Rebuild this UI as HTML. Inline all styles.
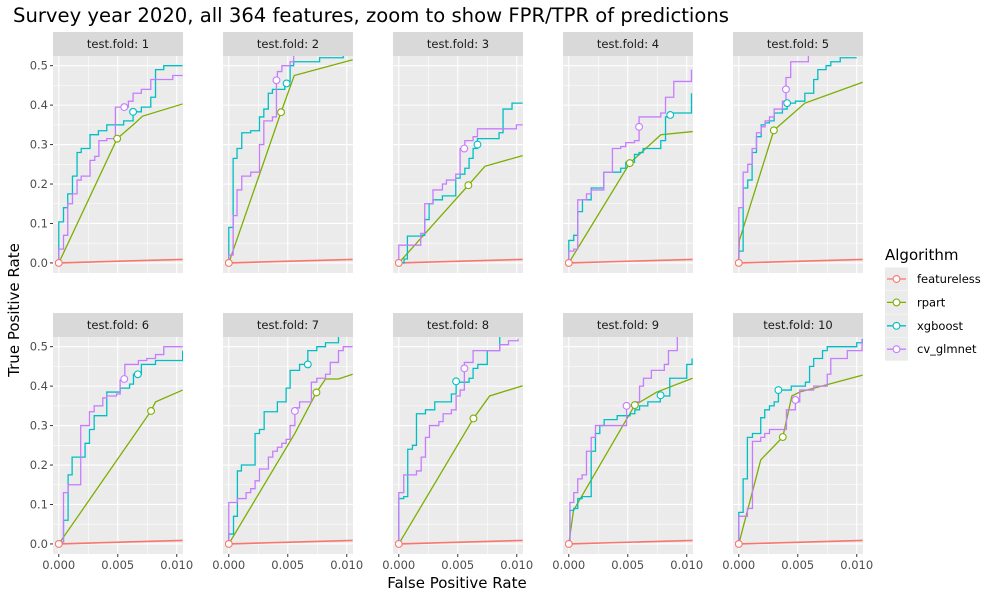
<!DOCTYPE html>
<html><head><meta charset="utf-8"><style>
body{margin:0;background:#fff;}
svg{display:block;font-family:"DejaVu Sans","Liberation Sans",sans-serif;}
</style></head><body>
<svg id="chart" width="1000" height="600" viewBox="0 0 1000 600">
<text x="13" y="22" font-size="19.5" fill="#000" textLength="716" lengthAdjust="spacingAndGlyphs">Survey year 2020, all 364 features, zoom to show FPR/TPR of predictions</text>
<text x="457" y="588" font-size="15" text-anchor="middle" fill="#000">False Positive Rate</text>
<text transform="translate(19,310) rotate(-90)" font-size="15" text-anchor="middle" fill="#000">True Positive Rate</text>
<g id="panels"></g>
<g id="legend"></g>
</svg>
<script>
// FPR values are in thousandths (x 0.001)
const folds = [1,2,3,4,5,6,7,8,9,10];
const xTicks = [0, 5, 10];
const xTickLabels = ["0.000","0.005","0.010"];
const yTicks = [0, 0.1, 0.2, 0.3, 0.4, 0.5];
const yTickLabels = ["0.0","0.1","0.2","0.3","0.4","0.5"];
const algorithms = ["featureless","rpart","xgboost","cv_glmnet"];
const algColors = ["#F8766D","#7CAE00","#00BFC4","#C77CFF"];

const xgbFpr = [
 [0,0.4,0.76,1.16,1.55,1.9,2.65,3.36,4.07,5.5,6.3,7.0,7.8,8.2,8.9,10.5],
 [0,0.37,0.7,1.1,1.86,2.6,2.97,3.35,3.7,4.75,5.2,5.5,7.7,9.7],
 [0.45,0.73,1.86,2.2,2.57,2.9,3.7,4.83,5.2,5.6,5.96,6.3,6.67,8.5,8.84,9.6,10.5],
 [0,0.42,0.76,1.16,1.9,2.97,4.4,4.83,5.57,5.96,6.3,7.8,8.2,8.6,10.4],
 [0,0.37,0.76,1.13,1.5,1.9,2.23,2.6,3.0,3.7,4.1,4.8,5.6,6.35,6.7,7.4,7.8,8.6,10.0],
 [0,0.4,0.79,1.13,2.23,2.6,3.0,4.07,5.2,6.0,6.33,7.0,8.2,10.5],
 [0,0.4,0.73,1.07,2.23,2.6,3.0,4.12,4.86,5.2,6.0,6.7,7.46,8.2,9.3],
 [0,0.42,0.76,1.16,1.5,2.26,3.05,4.46,4.86,5.96,6.3,6.7,7.5,8.56],
 [0.1,0.42,0.76,1.13,1.9,2.26,2.63,3.0,4.1,5.2,5.6,6.0,6.7,7.76,8.56,10.0,10.45],
 [0,0.37,0.73,1.16,1.86,2.2,2.6,3.0,3.36,4.45,5.65,6.0,6.35,7.1,7.5,10.0,10.5]
];
const xgbTpr = [
 [0.104,0.14,0.175,0.22,0.28,0.29,0.325,0.335,0.35,0.36,0.383,0.395,0.42,0.49,0.5,0.5],
 [0.09,0.265,0.29,0.33,0.335,0.37,0.39,0.43,0.44,0.46,0.5,0.51,0.52,0.56],
 [0.01,0.068,0.07,0.11,0.15,0.16,0.17,0.215,0.225,0.24,0.265,0.29,0.315,0.33,0.39,0.405,0.405],
 [0.057,0.07,0.13,0.16,0.19,0.23,0.24,0.255,0.275,0.28,0.29,0.31,0.37,0.38,0.43],
 [0.03,0.19,0.21,0.28,0.32,0.35,0.355,0.36,0.38,0.39,0.405,0.41,0.43,0.465,0.49,0.5,0.51,0.52,0.52],
 [0.005,0.06,0.175,0.22,0.255,0.29,0.325,0.385,0.395,0.405,0.43,0.455,0.465,0.49],
 [0.025,0.07,0.185,0.2,0.28,0.29,0.335,0.36,0.395,0.44,0.455,0.49,0.5,0.51,0.56],
 [0.115,0.12,0.24,0.25,0.33,0.34,0.36,0.38,0.41,0.42,0.445,0.455,0.49,0.56],
 [0.085,0.09,0.115,0.12,0.235,0.28,0.3,0.315,0.325,0.33,0.34,0.35,0.36,0.375,0.42,0.455,0.47],
 [0.08,0.165,0.27,0.28,0.32,0.34,0.35,0.36,0.39,0.4,0.41,0.45,0.47,0.49,0.5,0.51,0.52]
];
const glmFpr = [
 [0,0.4,0.76,1.16,1.55,1.9,2.65,3.05,3.4,4.07,4.8,5.9,6.3,7.0,7.8,9.66,10.5],
 [0,0.37,0.7,1.1,1.86,2.6,2.97,3.7,4.04,4.12,4.5,5.2,5.5],
 [0,0.73,1.86,2.2,2.9,3.7,4.04,4.83,5.2,5.6,6.3,6.67,9.97,10.5],
 [0,0.42,0.76,1.5,1.9,2.97,3.7,4.4,4.83,5.57,5.96,7.8,8.2,8.9,10.4],
 [0,0.37,0.76,1.13,1.5,1.9,2.23,2.6,3.0,3.7,4.0,4.4,5.9],
 [0,0.4,0.79,1.86,2.6,3.0,3.73,4.07,4.9,5.2,5.6,6.75,7.46,8.2,8.9,10.5],
 [0,0.73,1.47,1.86,2.23,2.6,3.36,3.73,4.12,4.5,4.86,5.2,5.6,6.0,7.0,7.46,8.2,8.6,9.3,9.7,10.5],
 [0,0.42,1.5,1.9,2.26,2.6,3.4,3.76,4.46,4.86,5.2,5.56,6.3,8.56,9.3,10.1],
 [0.1,0.42,0.76,1.13,1.5,1.9,2.26,4.9,5.6,6.0,6.33,7.0,8.1,8.45,9.2],
 [0,0.73,1.16,1.86,2.2,2.6,4.04,4.8,5.17,6.35,7.5,7.8,9.2,10.45]
];
const glmTpr = [
 [0.035,0.07,0.15,0.175,0.21,0.22,0.26,0.27,0.31,0.315,0.395,0.41,0.43,0.44,0.465,0.475,0.475],
 [0.02,0.12,0.185,0.22,0.23,0.3,0.36,0.37,0.46,0.485,0.5,0.51,0.56],
 [0.045,0.045,0.075,0.15,0.185,0.2,0.21,0.225,0.29,0.31,0.32,0.34,0.35,0.35],
 [0.03,0.035,0.16,0.175,0.185,0.23,0.29,0.295,0.305,0.31,0.37,0.38,0.42,0.46,0.49],
 [0.14,0.23,0.25,0.29,0.33,0.345,0.36,0.37,0.39,0.41,0.47,0.51,0.56],
 [0.005,0.13,0.15,0.3,0.335,0.35,0.37,0.375,0.38,0.415,0.455,0.465,0.47,0.48,0.5,0.5],
 [0.105,0.115,0.13,0.14,0.16,0.19,0.22,0.235,0.245,0.255,0.265,0.3,0.345,0.36,0.41,0.42,0.43,0.46,0.49,0.5,0.5],
 [0.13,0.175,0.185,0.22,0.27,0.3,0.31,0.33,0.34,0.375,0.39,0.46,0.49,0.505,0.515,0.52],
 [0.105,0.13,0.165,0.175,0.235,0.27,0.3,0.35,0.36,0.4,0.42,0.44,0.455,0.49,0.56],
 [0.07,0.09,0.26,0.27,0.28,0.29,0.34,0.36,0.39,0.4,0.43,0.47,0.49,0.52]
];
const rpartFpr = [
 [0,4.95,6.3,7.1,10.5],[0,4.43,5.55,10.5],[0,5.9,7.3,10.5],[0,5.17,7.8,10.5],[0,0.05,2.97,5.6,10.5],
 [0,7.82,8.2,10.5],[0,5.6,7.43,8.2,9.3,10.5],[0,6.33,7.7,10.5],[0,0.4,5.6,7.46,10.5],[0,1.86,3.73,4.5,5.17,10.5]
];
const rpartTpr = [
 [0,0.315,0.35,0.372,0.403],[0,0.382,0.475,0.515],[0,0.197,0.245,0.272],[0,0.253,0.325,0.333],[0,0.057,0.336,0.405,0.458],
 [0,0.337,0.36,0.39],[0,0.28,0.384,0.418,0.418,0.43],[0,0.318,0.375,0.401],[0,0.085,0.352,0.385,0.42],[0,0.213,0.271,0.375,0.385,0.428]
];
const featFpr = [0, 10.5];
const featTpr = [0, 0.009];
const featMarkFpr = [0,0,0,0,0,0,0,0,0,0];
const featMarkTpr = [0,0,0,0,0,0,0,0,0,0];
const rpartMarkFpr = [4.95,4.43,5.9,5.17,2.97,7.82,7.43,6.33,5.6,3.73];
const rpartMarkTpr = [0.315,0.382,0.197,0.253,0.336,0.337,0.384,0.318,0.352,0.271];
const xgbMarkFpr = [6.3,4.9,6.67,8.6,4.1,6.7,6.7,4.86,7.78,3.36];
const xgbMarkTpr = [0.383,0.455,0.3,0.375,0.405,0.43,0.455,0.412,0.377,0.39];
const glmMarkFpr = [5.55,4.04,5.55,5.96,4.0,5.55,5.6,5.56,4.9,4.8];
const glmMarkTpr = [0.395,0.463,0.29,0.345,0.44,0.418,0.337,0.445,0.35,0.365];

const NS = "http://www.w3.org/2000/svg";
function mk(tag, attrs, parent){const e=document.createElementNS(NS,tag);for(const k in attrs)e.setAttribute(k,attrs[k]);if(parent)parent.appendChild(e);return e;}
const panelsG = document.getElementById('panels');
const PW = 130, XMIN = -0.49, XMAX = 10.53, YMIN = -0.0255, YMAX = 0.5245;
function panelGeom(i){const col=i%5,row=Math.floor(i/5);const left=53+col*170;const top=row===0?56:337;const bottom=row===0?273:554;return {left,top,bottom,row,col};}
function xS(g,v){return g.left+(v-XMIN)/(XMAX-XMIN)*PW;}
function yS(g,v){return g.bottom-(v-YMIN)/(YMAX-YMIN)*(g.bottom-g.top);}
function stepPath(g,xs,ys){let d=`M${xS(g,0)},${yS(g,0)}`;for(let k=0;k<xs.length;k++){d+=` H${xS(g,xs[k])} V${yS(g,ys[k])}`;}return d;}
function linePath(g,xs,ys){return xs.map((x,k)=>(k?'L':'M')+xS(g,x)+','+yS(g,ys[k])).join(' ');}

folds.forEach((f,i)=>{
  const g = panelGeom(i);
  const pg = mk('g',{},panelsG);
  
  
  const strip = mk('rect',{x:g.left,y:g.top-24,width:PW,height:24,fill:'#D9D9D9'},pg);
  
  
  const st = mk('text',{x:g.left+PW/2,y:g.top-8,'font-size':11.5,'text-anchor':'middle',fill:'#1A1A1A'},pg);
  st.textContent='test.fold: '+f;
  
  
  const bg = mk('rect',{x:g.left,y:g.top,width:PW,height:g.bottom-g.top,fill:'#EBEBEB'},pg);
  
  
  [2.5,7.5].forEach(v=>mk('line',{x1:xS(g,v),x2:xS(g,v),y1:g.top,y2:g.bottom,stroke:'#fff','stroke-width':0.55},pg));
  [0.05,0.15,0.25,0.35,0.45].forEach(v=>mk('line',{x1:g.left,x2:g.left+PW,y1:yS(g,v),y2:yS(g,v),stroke:'#fff','stroke-width':0.55},pg));
  xTicks.forEach(v=>mk('line',{x1:xS(g,v),x2:xS(g,v),y1:g.top,y2:g.bottom,stroke:'#fff','stroke-width':1.1},pg));
  yTicks.forEach(v=>mk('line',{x1:g.left,x2:g.left+PW,y1:yS(g,v),y2:yS(g,v),stroke:'#fff','stroke-width':1.1},pg));
  const cid='clip'+i;
  const cp=mk('clipPath',{id:cid},pg);
  mk('rect',{x:g.left,y:g.top,width:PW,height:g.bottom-g.top},cp);
  const dg=mk('g',{'clip-path':`url(#${cid})`},pg);
  const lf=mk('path',{d:linePath(g,featFpr,featTpr),fill:'none',stroke:algColors[0],'stroke-width':1.6},dg);
  
  
  const lr=mk('path',{d:linePath(g,rpartFpr[i],rpartTpr[i]),fill:'none',stroke:algColors[1],'stroke-width':1.3},dg);
  
  
  const lx=mk('path',{d:stepPath(g,xgbFpr[i],xgbTpr[i]),fill:'none',stroke:algColors[2],'stroke-width':1.3},dg);
  
  
  const lg=mk('path',{d:stepPath(g,glmFpr[i],glmTpr[i]),fill:'none',stroke:algColors[3],'stroke-width':1.3},dg);
  
  
  const marks=[[featMarkFpr,featMarkTpr,0,'featureless-point'],[rpartMarkFpr,rpartMarkTpr,1,'rpart-point'],[xgbMarkFpr,xgbMarkTpr,2,'xgboost-point'],[glmMarkFpr,glmMarkTpr,3,'cv-glmnet-point']];
  marks.forEach(m=>{
    const c=mk('circle',{cx:xS(g,m[0][i]),cy:yS(g,m[1][i]),r:3.4,fill:'#fff',stroke:algColors[m[2]],'stroke-width':1.1},pg);
    
    
  });
  if(g.col===0){
    yTicks.forEach((v,k)=>{
      mk('line',{x1:g.left-3,x2:g.left,y1:yS(g,v),y2:yS(g,v),stroke:'#333','stroke-width':1},pg);
      const t=mk('text',{x:g.left-5,y:yS(g,v)+4,'font-size':11.5,'text-anchor':'end',fill:'#4D4D4D'},pg);
      t.textContent=yTickLabels[k];
      
      
    });
  }
  if(g.row===1){
    xTicks.forEach((v,k)=>{
      mk('line',{x1:xS(g,v),x2:xS(g,v),y1:g.bottom,y2:g.bottom+3,stroke:'#333','stroke-width':1},pg);
      const t=mk('text',{x:xS(g,v),y:g.bottom+15,'font-size':11.5,'text-anchor':'middle',fill:'#4D4D4D'},pg);
      t.textContent=xTickLabels[k];
      
      
    });
  }
});

const lgG=document.getElementById('legend');
const lt=mk('text',{x:885,y:260,'font-size':15,fill:'#000'},lgG);
lt.textContent='Algorithm';


algorithms.forEach((a,k)=>{
  const cy=279+k*23.4;
  const eg=mk('g',{},lgG);
  
  
  mk('rect',{x:885,y:cy-11.5,width:23,height:23,fill:'#EBEBEB'},eg);
  mk('line',{x1:887,x2:906,y1:cy,y2:cy,stroke:algColors[k],'stroke-width':1.3},eg);
  mk('circle',{cx:896.5,cy:cy,r:3.4,fill:'#fff',stroke:algColors[k],'stroke-width':1.1},eg);
  const t=mk('text',{x:917,y:cy+4,'font-size':11.5,fill:'#000'},eg);
  t.textContent=a;
});
</script>
</body></html>
